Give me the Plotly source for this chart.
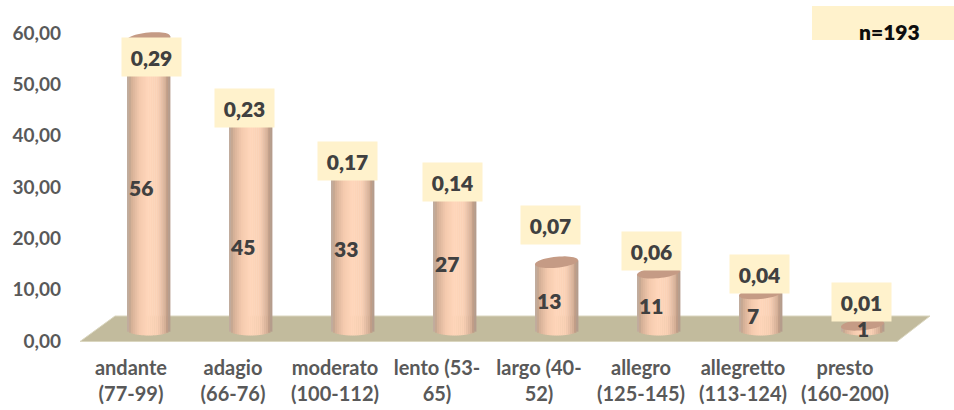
import math
import plotly.graph_objects as go

categories = ["andante<br>(77-99)", "adagio<br>(66-76)", "moderato<br>(100-112)", "lento (53-<br>65)",
              "largo (40-<br>52)", "allegro<br>(125-145)", "allegretto<br>(113-124)", "presto<br>(160-200)"]
counts = [56, 45, 33, 27, 13, 11, 7, 1]
shares = [0.29, 0.23, 0.17, 0.14, 0.07, 0.06, 0.04, 0.01]
y_ticks = [0, 10, 20, 30, 40, 50, 60]
note = "n=193"

# label nudges in pixels, styling only
count_dx = [-8, -8, -7, -8, -8, -8, -8, 0]
count_dy = [-3, -34, -5, -4, -4, -4, -4, -1]
share_dx = [3, -6, -5, -2, -6, -7, -1, -1]
share_dy = [-19, -13, -3, 7, 37, 22, 20, 23]

W, H = 954, 410
L, B = 62, 65
PX_X0, PX_STEP = 131, 102          # first category tick, category step
Y0_PX, Y60_PX = 341, 33            # front axis
BASE_PX, TOP56_PX = 330, 38        # bar axis: 0 and 56
BAR_DX, BAR_W = 17.5 / PX_STEP, 43 / PX_STEP
ELL = 5.5                          # ellipse half height px
TILT = 2.0                         # ellipse rise at right edge px


def ux(px):
    return (px - PX_X0) / PX_STEP


def uy(py):
    return (Y0_PX - py) * 60 / (Y0_PX - Y60_PX)


bar_scale = (BASE_PX - TOP56_PX) / 56
y2_range = [(BASE_PX - (H - B)) / bar_scale, BASE_PX / bar_scale]
ell_u = ELL / bar_scale
tilt_u = TILT / bar_scale

stops = [(0.0, (214, 208, 203)), (0.03, (186, 160, 142)), (0.12, (215, 178, 152)), (0.30, (245, 203, 175)),
         (0.50, (255, 214, 186)), (0.72, (250, 208, 180)), (0.90, (210, 172, 148)), (0.97, (170, 140, 120)),
         (1.0, (214, 208, 203))]


def grad(t):
    for (a, ca), (b, cb) in zip(stops, stops[1:]):
        if t <= b:
            f = (t - a) / (b - a)
            return "rgb(%d,%d,%d)" % tuple(round(ca[i] + (cb[i] - ca[i]) * f) for i in range(3))
    return "rgb(%d,%d,%d)" % stops[-1][1]


fig = go.Figure()
xs = [i + BAR_DX for i in range(len(counts))]
N = 22
for k in range(N):
    t = (k + 0.5) / N
    offs = -BAR_W / 2 + k * BAR_W / N
    edge = -ell_u * math.sqrt(max(0, 1 - (2 * t - 1) ** 2))
    rise = tilt_u * (2 * t - 1)
    fig.add_trace(go.Bar(
        x=xs, y=[c + rise - edge for c in counts], base=[edge] * len(counts), yaxis="y2",
        width=BAR_W / N + 0.004, offset=offs,
        marker=dict(color=grad(t), line=dict(width=0)), showlegend=False, hoverinfo="skip"))

# invisible trace keeps the front axis alive
fig.add_trace(go.Scatter(x=xs, y=[0] * len(xs), mode="markers", marker=dict(opacity=0), showlegend=False,
                         hoverinfo="skip"))

floor = [(80, 341.5), (115, 316), (930, 316), (897, 341.5)]
shapes = [dict(type="path", xref="x", yref="y", layer="below",
               path="M" + " L".join(f"{ux(a):.4f},{uy(b):.4f}" for a, b in floor) + " Z",
               fillcolor="#C2BB9D", line=dict(color="#DAD6BF", width=1))]
for x, c in zip(xs, counts):
    pts = []
    for j in range(48):
        th = 2 * math.pi * j / 48
        pts.append((x + BAR_W / 2 * math.cos(th), c + ell_u * math.sin(th) + tilt_u * math.cos(th)))
    shapes.append(dict(type="path", xref="x", yref="y2", layer="above",
                       path="M" + " L".join(f"{a:.4f},{b:.4f}" for a, b in pts) + " Z",
                       fillcolor="#C59B85", line=dict(width=0)))
shapes.append(dict(type="rect", xref="paper", yref="paper", layer="above",
                   x0=(812 - L) / (W - L), x1=1, y0=1 - 40 / (H - B), y1=1 - 6 / (H - B),
                   fillcolor="#FFF2CC", line=dict(width=0)))

FONT = "Lato, Carlito, sans-serif"
annotations = []
for x, c, s, cdx, cdy, sdx, sdy in zip(xs, counts, shares, count_dx, count_dy, share_dx, share_dy):
    annotations.append(dict(x=x, y=c / 2, xref="x", yref="y2", text=str(c), showarrow=False,
                            xshift=cdx, yshift=cdy,
                            font=dict(family=FONT, size=21, color="#404040", weight=800)))
    annotations.append(dict(x=x, y=c, xref="x", yref="y2", text=f"{s:.2f}".replace(".", ","), showarrow=False,
                            xshift=sdx, yshift=sdy, width=59, height=38, bgcolor="#FFF2CC", borderpad=0,
                            font=dict(family=FONT, size=21, color="#404040", weight=800)))
annotations.append(dict(x=(889 - L) / (W - L), y=1 - 31 / (H - B), xref="paper", yref="paper", text=note,
                        showarrow=False, xanchor="center", yanchor="middle",
                        font=dict(family=FONT, size=21, color="#0D0D0D", weight=800)))

fig.update_layout(
    width=W, height=H, margin=dict(l=L, r=0, t=0, b=B, pad=0),
    paper_bgcolor="white", plot_bgcolor="rgba(0,0,0,0)", barmode="overlay", showlegend=False,
    xaxis=dict(range=[ux(L), ux(W)], tickmode="array", tickvals=list(range(len(categories))), ticktext=categories,
               showgrid=False, zeroline=False, showline=False, ticks="", ticklabelstandoff=9,
               tickfont=dict(family=FONT, size=20, color="#595959", weight=700)),
    yaxis=dict(range=[uy(H - B), uy(0)], tickmode="array", tickvals=y_ticks,
               ticktext=[f"{v:.2f}".replace(".", ",") for v in y_ticks],
               showgrid=False, zeroline=False, showline=False, ticks="",
               tickfont=dict(family=FONT, size=19, color="#595959", weight=700)),
    yaxis2=dict(range=y2_range, overlaying="y", visible=False),
    shapes=shapes, annotations=annotations,
)
fig.write_html("out.html", config={"displayModeBar": False}, post_script="document.body.style.margin='0';")
